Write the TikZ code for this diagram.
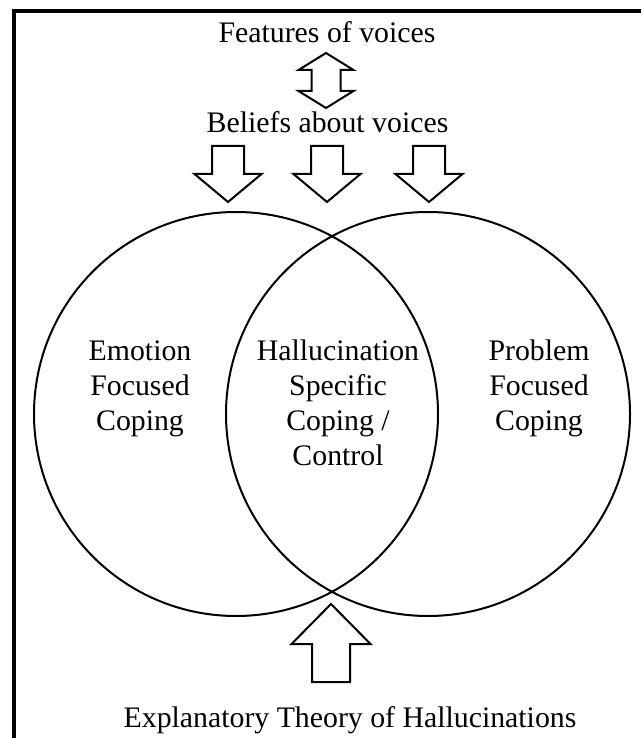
\documentclass[tikz,border=0pt]{standalone}
\usepackage{fontspec}
\setmainfont{Liberation Serif}
\usetikzlibrary{positioning}

\begin{document}
\begin{tikzpicture}[x=1pt, y=-1pt,
    words/.style={font=\fontsize{29.8}{35}\selectfont, align=center, inner sep=0pt, anchor=base},
    ring/.style={circle, draw, line width=2pt, minimum size=404pt, inner sep=0pt},
    block/.style={draw, line width=2pt, line join=miter, fill=white},
    pics/downblock/.style={code={
        \draw[block] (-16,-56) -- (16,-56) -- (16,-28) -- (33.5,-28) -- (0,0) -- (-33.5,-28) -- (-16,-28) -- cycle;}},
    pics/upblock/.style={code={
        \draw[block] (0,0) -- (39.5,40) -- (19,40) -- (19,78) -- (-19,78) -- (-19,40) -- (-39.5,40) -- cycle;}},
    pics/bothblock/.style={code={
        \draw[block] (0,0) -- (27.5,17) -- (14.5,17) -- (14.5,38) -- (27.5,38) -- (0,55)
            -- (-27.5,38) -- (-14.5,38) -- (-14.5,17) -- (-27.5,17) -- cycle;}}]
    \useasboundingbox (0,0) rectangle (641,738);
    % frame, open at right and bottom
    \draw [line width=4pt] (641,11) -- (14,11) -- (14,738);

    \node (emotionring) [ring] at (236,414) {};
    \node (problemring) [ring] at (428,414) {};

    \node (features) [words] at (327,43) {Features of voices};
    \node (beliefs) [words] at (327.5,133) {Beliefs about voices};
    \node (theory) [words] at (350,727) {Explanatory Theory of Hallucinations};

    % base of a node of several lines is its last line
    \node (emotion) [words] at (140,430) {Emotion\\Focused\\Coping};
    \node (specific) [words] at (338,465) {Hallucination\\Specific\\Coping /\\Control};
    \node (problem) [words] at (539,430) {Problem\\Focused\\Coping};

    \pic at (326,53) {bothblock};
    \foreach \x in {228,327,429}
        \pic at (\x,202) {downblock};
    \pic at (331,604) {upblock};
\end{tikzpicture}
\end{document}
